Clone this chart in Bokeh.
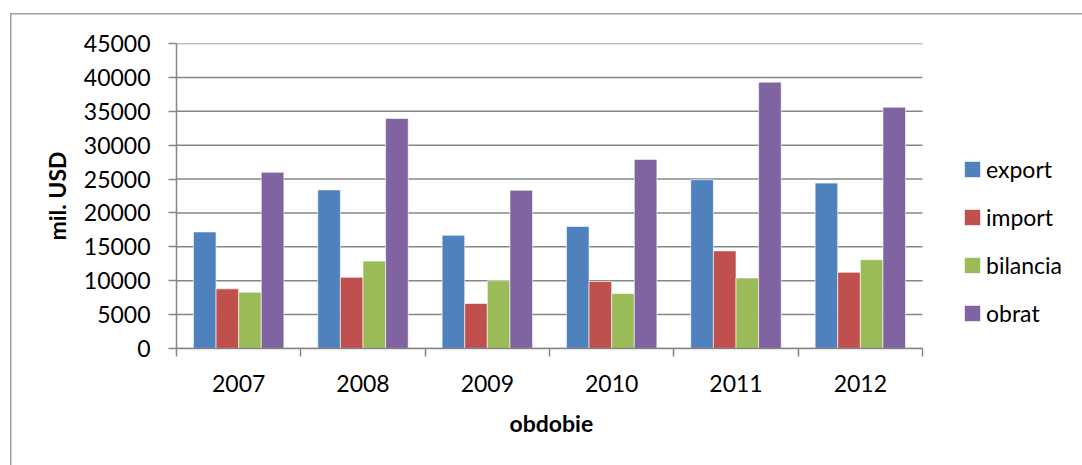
from bokeh.plotting import figure
from bokeh.models import (FixedTicker, Legend, LegendItem, Title,
                          ColumnDataSource, Range1d, NumeralTickFormatter)
from bokeh.transform import dodge
from bokeh.embed import file_html
from bokeh.resources import INLINE

years = ["2007", "2008", "2009", "2010", "2011", "2012"]
export = [17200, 23400, 16700, 18000, 24900, 24400]
import_ = [8800, 10500, 6650, 9900, 14400, 11250]
bilancia = [8300, 12900, 10000, 8100, 10400, 13100]
obrat = [26000, 33950, 23350, 27900, 39300, 35600]
y_ticks = list(range(0, 45001, 5000))

series = [("export", export, "#4F81BD"),
          ("import", import_, "#C0504D"),
          ("bilancia", bilancia, "#9BBB59"),
          ("obrat", obrat, "#8064A2")]

FONT = "Lato"
FS = "23px"
GRAY = "#868686"

W, H = 1082, 465
LEFT, TOP, BOTTOM = 176, 43, 117
PLOT_W = 746          # width of the category area in pixels
n = len(years)
x_end = n * (W - LEFT) / PLOT_W   # frame extends right to hold the legend

xc = [i + 0.5 for i in range(n)]
src = ColumnDataSource(dict(x=xc, export=export, imp=import_, bilancia=bilancia, obrat=obrat))
cols = ["export", "imp", "bilancia", "obrat"]

p = figure(width=W, height=H, output_backend="svg", toolbar_location=None,
           x_range=Range1d(0, x_end), y_range=Range1d(0, 45000),
           min_border_left=LEFT, min_border_right=0, min_border_top=TOP, min_border_bottom=BOTTOM)
p.outline_line_color = None
p.background_fill_color = "white"
p.border_fill_alpha = 0
p.styles = {
    "background-color": "white",
    "background-image": "linear-gradient(#a0a0a0, #a0a0a0), linear-gradient(#a0a0a0, #a0a0a0)",
    "background-size": "100% 1.5px, 1.5px 100%",
    "background-position": "10px 13px, 10px 13px",
    "background-repeat": "no-repeat",
}

# horizontal grid lines limited to the category area
p.segment(x0=[0] * len(y_ticks), x1=[n] * len(y_ticks), y0=y_ticks, y1=y_ticks,
          line_color=GRAY, line_width=1.5)

bw = 1.0 / 5.5
items = []
for k, ((name, vals, color), col) in enumerate(zip(series, cols)):
    off = (k - 1.5) * bw
    r = p.vbar(x=dodge("x", off), top=col, width=bw, source=src,
               fill_color=color, line_color="white", line_alpha=0.6, line_width=1)
    items.append(LegendItem(label=name, renderers=[r]))

# y axis
p.yaxis.ticker = FixedTicker(ticks=y_ticks)
p.yaxis.formatter = NumeralTickFormatter(format="0")
p.yaxis.major_tick_in = 0
p.yaxis.major_tick_out = 8
p.yaxis.minor_tick_line_color = None
p.yaxis.axis_line_color = GRAY
p.yaxis.axis_line_width = 1.5
p.yaxis.major_tick_line_color = GRAY
p.yaxis.major_tick_line_width = 1.5
p.yaxis.major_label_text_font = FONT
p.yaxis.major_label_text_font_size = FS
p.yaxis.major_label_text_color = "black"
p.yaxis.major_label_standoff = 18
p.yaxis.axis_label = "mil. USD"
p.yaxis.axis_label_text_font = FONT
p.yaxis.axis_label_text_font_size = FS
p.yaxis.axis_label_text_font_style = "bold"
p.yaxis.axis_label_text_color = "black"
p.yaxis.axis_label_standoff = 10

# x axis
p.xaxis.bounds = (0, n)
p.xaxis.ticker = FixedTicker(ticks=xc, minor_ticks=list(range(n + 1)))
p.xaxis.major_label_overrides = {x: y for x, y in zip(xc, years)}
p.xaxis.major_tick_line_color = None
p.xaxis.major_tick_in = 0
p.xaxis.major_tick_out = 0
p.xaxis.minor_tick_in = 0
p.xaxis.minor_tick_out = 8
p.xaxis.minor_tick_line_color = GRAY
p.xaxis.minor_tick_line_width = 1.5
p.xaxis.axis_line_color = GRAY
p.xaxis.axis_line_width = 1.5
p.xaxis.major_label_text_font = FONT
p.xaxis.major_label_text_font_size = FS
p.xaxis.major_label_text_color = "black"
p.xaxis.major_label_standoff = 18

p.xgrid.grid_line_color = None
p.ygrid.grid_line_color = None

# x axis title, centred under the category area
xtitle = Title(text="obdobie", align="left", offset=PLOT_W / 2 - 40,
               text_font=FONT, text_font_size=FS, text_font_style="bold",
               text_color="black", standoff=24)
p.add_layout(xtitle, "below")

legend = Legend(items=items, location=(786, 21), orientation="vertical",
                glyph_width=20, glyph_height=20, label_standoff=4, spacing=20,
                padding=0, margin=0, border_line_color=None, background_fill_alpha=0,
                label_text_font=FONT, label_text_font_size=FS, label_text_color="black")
p.add_layout(legend, "center")

open("out.html", "w").write(file_html(p, INLINE))
